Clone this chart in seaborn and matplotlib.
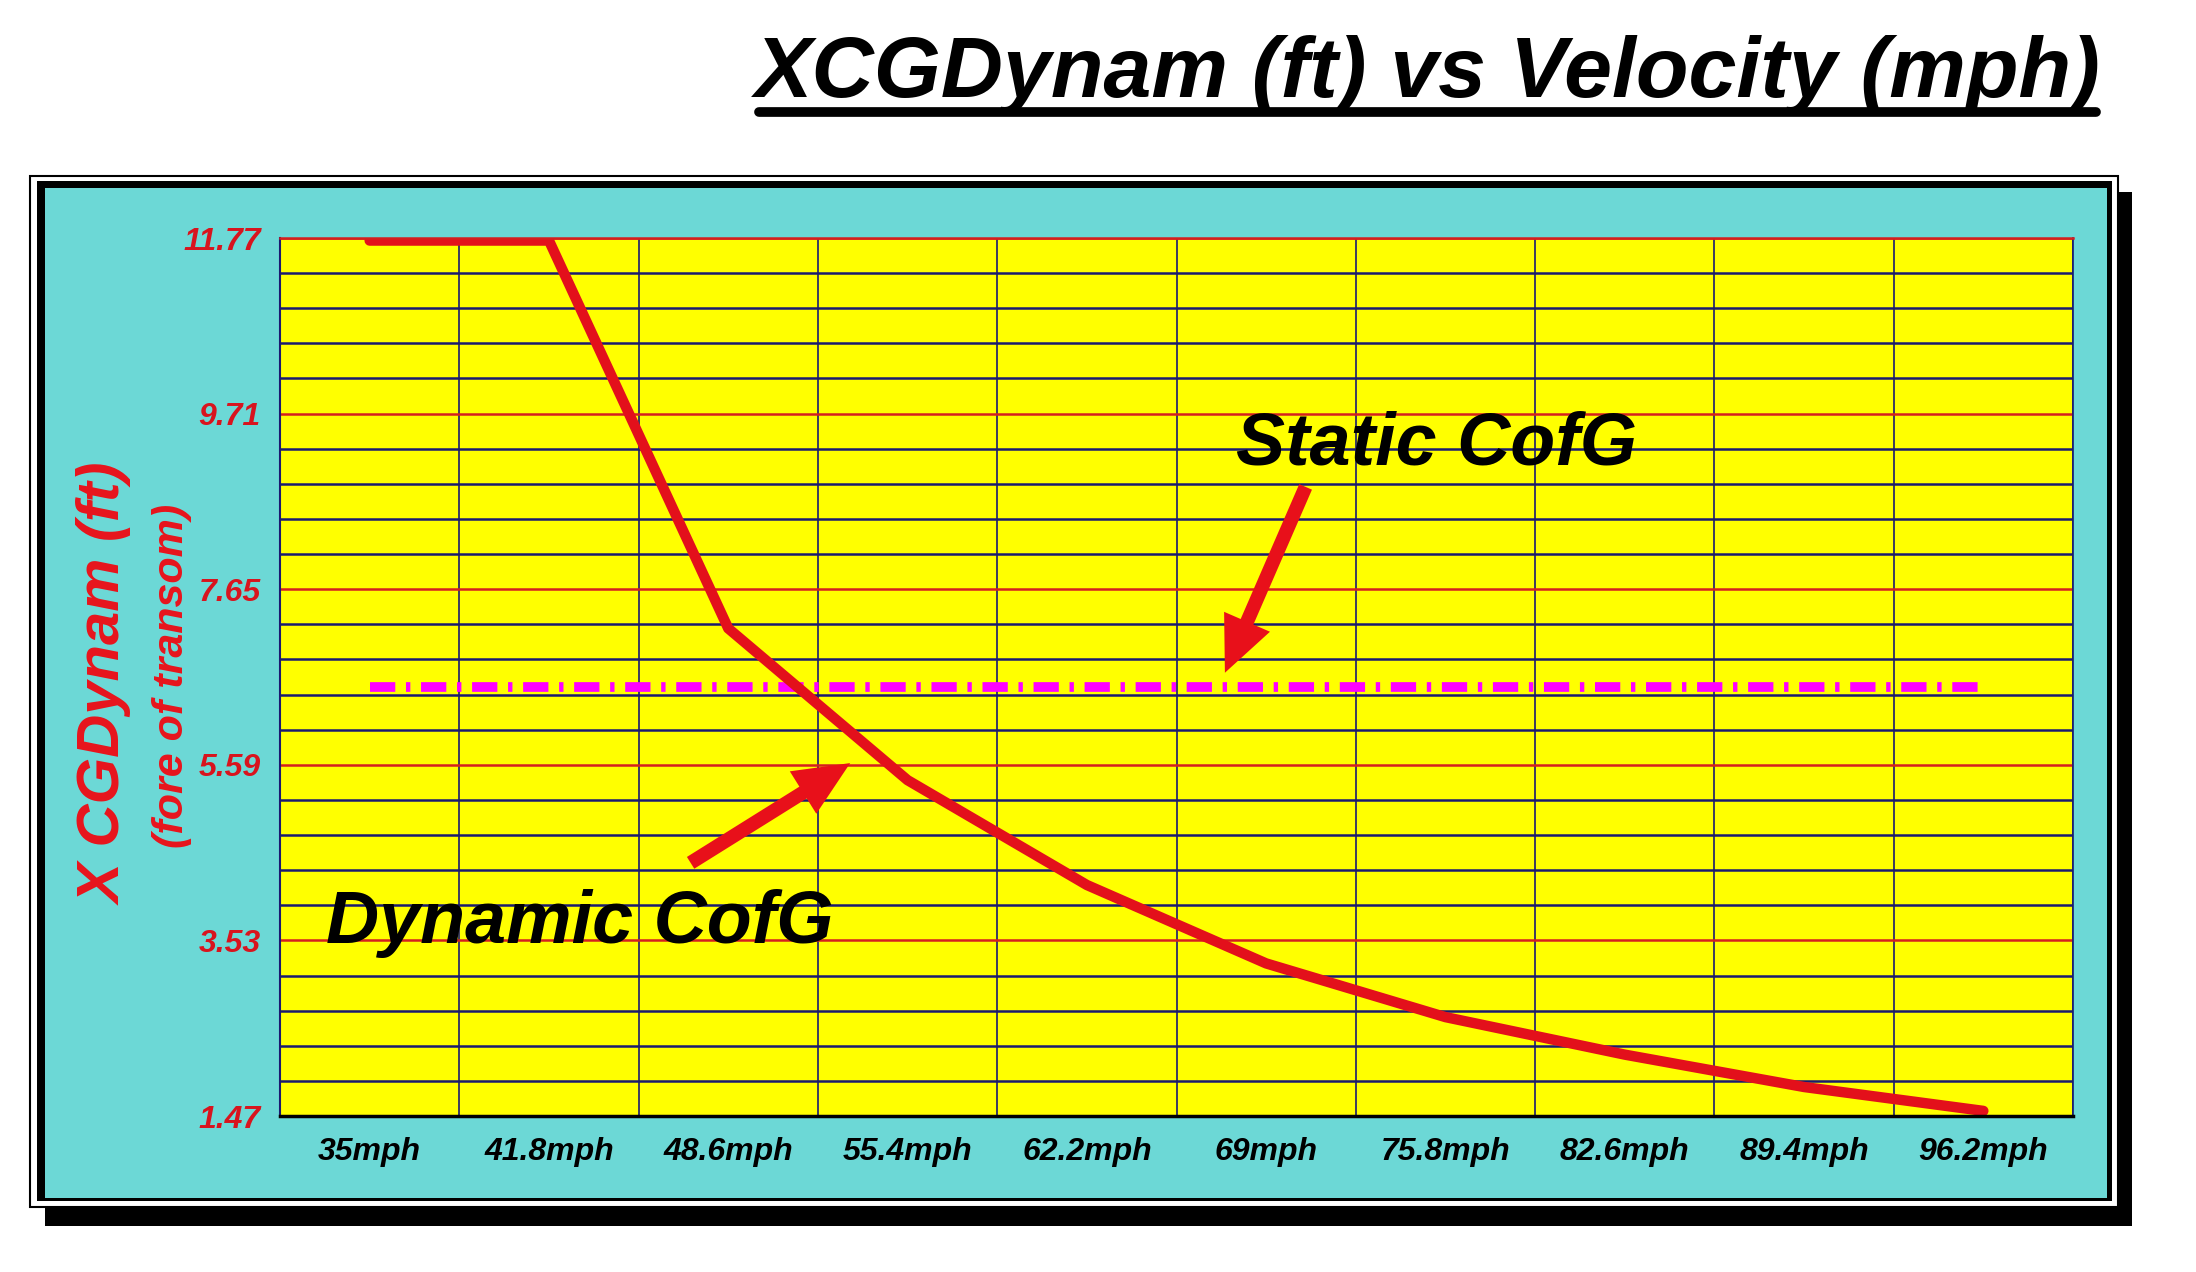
import matplotlib
matplotlib.use("Agg")
import matplotlib.pyplot as plt
from matplotlib.patches import Rectangle
from matplotlib.lines import Line2D
import numpy as np
import pandas as pd
import seaborn as sns

# values
velocity_labels = ['35mph', '41.8mph', '48.6mph', '55.4mph', '62.2mph',
                   '69mph', '75.8mph', '82.6mph', '89.4mph', '96.2mph']
xcg_dynamic = [11.74, 11.74, 7.19, 5.41, 4.18, 3.26, 2.63, 2.19, 1.81, 1.53]
xcg_static = [6.50, 6.50, 6.50, 6.50, 6.50, 6.50, 6.50, 6.50, 6.50, 6.50]
y_ticks = [1.47, 3.53, 5.59, 7.65, 9.71, 11.77]

W, H = 2196, 1272
RED = '#E3101B'
NAVY = '#1A1A70'

sns.set_style("white")
plt.rcParams['font.family'] = ['Liberation Sans', 'DejaVu Sans']

fig = plt.figure(figsize=(W / 100, H / 100), dpi=100)
fig.patch.set_facecolor('white')


def px_rect(x0, y0, x1, y1, **kw):
    # pixel box (origin top-left) -> figure rectangle
    return Rectangle((x0 / W, 1 - y1 / H), (x1 - x0) / W, (y1 - y0) / H,
                     transform=fig.transFigure, **kw)


# chart frame: shadow, double border, cyan panel
fig.add_artist(px_rect(45, 192, 2132, 1226, facecolor='black', edgecolor='none', zorder=-5))
fig.add_artist(px_rect(30, 176, 2118, 1207, facecolor='white', edgecolor='black', lw=1.5, zorder=-4))
fig.add_artist(px_rect(37, 181, 2112, 1201, facecolor='black', edgecolor='none', zorder=-3))
fig.add_artist(px_rect(45, 188, 2107, 1198, facecolor='#6CD8D6', edgecolor='none', zorder=-2))

ax = fig.add_axes([280 / W, 1 - 1116 / H, (2073 - 280) / W, (1116 - 238) / H])
ax.set_facecolor('#FFFF00')

df = pd.DataFrame({'velocity': velocity_labels,
                   'dynamic': xcg_dynamic,
                   'static': xcg_static})

sns.lineplot(data=df, x='velocity', y='static', ax=ax, sort=False,
             color='#FF00FF', lw=7, linestyle=(0, (2.6, 1.1, 0.45, 1.1)))
sns.lineplot(data=df, x='velocity', y='dynamic', ax=ax, sort=False,
             color=RED, lw=7.5, solid_joinstyle='round')

ax.set_xlabel('')
ax.set_ylabel('')
ax.set_xlim(-0.5, 9.5)
ax.set_ylim(y_ticks[0], y_ticks[-1])

# x axis: labels centred in cells, grid + ticks on cell boundaries
ax.set_xticks(range(len(velocity_labels)))
ax.set_xticklabels(velocity_labels, fontsize=23, fontweight='bold', style='italic', color='black')
ax.set_xticks(np.arange(-0.5, len(velocity_labels), 1), minor=True)
ax.tick_params(axis='x', which='major', length=0, pad=15)
ax.tick_params(axis='x', which='minor', length=25, width=1.2, color=NAVY, direction='out')

# y axis: red major lines, navy minor lines
ax.set_yticks(y_ticks)
ax.set_yticklabels([f'{v:.2f}' for v in y_ticks], fontsize=23, fontweight='bold',
                   style='italic', color='#D8141E')
minor_y = np.linspace(y_ticks[0], y_ticks[-1], 26)
ax.set_yticks(minor_y, minor=True)
ax.tick_params(axis='y', which='both', length=10, width=1.5, color=NAVY, pad=4, direction='out')

ax.grid(False)
ax.grid(axis='x', which='minor', color=NAVY, lw=1.2)
ax.grid(axis='y', which='minor', color=NAVY, lw=1.8)
ax.grid(axis='y', which='major', color='#D42020', lw=1.8)
ax.set_axisbelow(True)

ax.spines['left'].set_color(NAVY)
ax.spines['left'].set_linewidth(1.5)
ax.spines['right'].set_color(NAVY)
ax.spines['right'].set_linewidth(1.2)
ax.spines['top'].set_color('#D42020')
ax.spines['top'].set_linewidth(1.8)
ax.spines['bottom'].set_color('black')
ax.spines['bottom'].set_linewidth(2.5)

# callouts
arrow = dict(facecolor='#E8101A', edgecolor='none', width=10, headwidth=36,
             headlength=40, shrink=0)
ax.annotate('', xy=(4.77, 6.67), xytext=(5.22, 8.85), arrowprops=arrow)
ax.annotate('', xy=(2.68, 5.61), xytext=(1.79, 4.44), arrowprops=arrow)
ax.text(5.95, 9.11, 'Static CofG', ha='center', va='baseline',
        fontsize=53, fontweight='bold', style='italic', color='black')
ax.text(1.17, 3.50, 'Dynamic CofG', ha='center', va='baseline',
        fontsize=53, fontweight='bold', style='italic', color='black')

# axis titles
fig.text(106 / W, 1 - 684 / H, 'X CGDynam (ft)', rotation=90, ha='center', va='center',
         fontsize=43, fontweight='bold', style='italic', color='#E8141C')
fig.text(172 / W, 1 - 676 / H, '(fore of transom)', rotation=90, ha='center', va='center',
         fontsize=31, fontweight='bold', style='italic', color='#E8141C')

# underlined title
fig.text(1428 / W, 1 - 97 / H, 'XCGDynam (ft) vs Velocity (mph)', ha='center', va='baseline',
         fontsize=62, fontweight='bold', style='italic', color='black')
fig.add_artist(Line2D([759 / W, 2096 / W], [1 - 112 / H, 1 - 112 / H],
                      transform=fig.transFigure, color='black', lw=7))

fig.savefig('out.png', dpi=100)
